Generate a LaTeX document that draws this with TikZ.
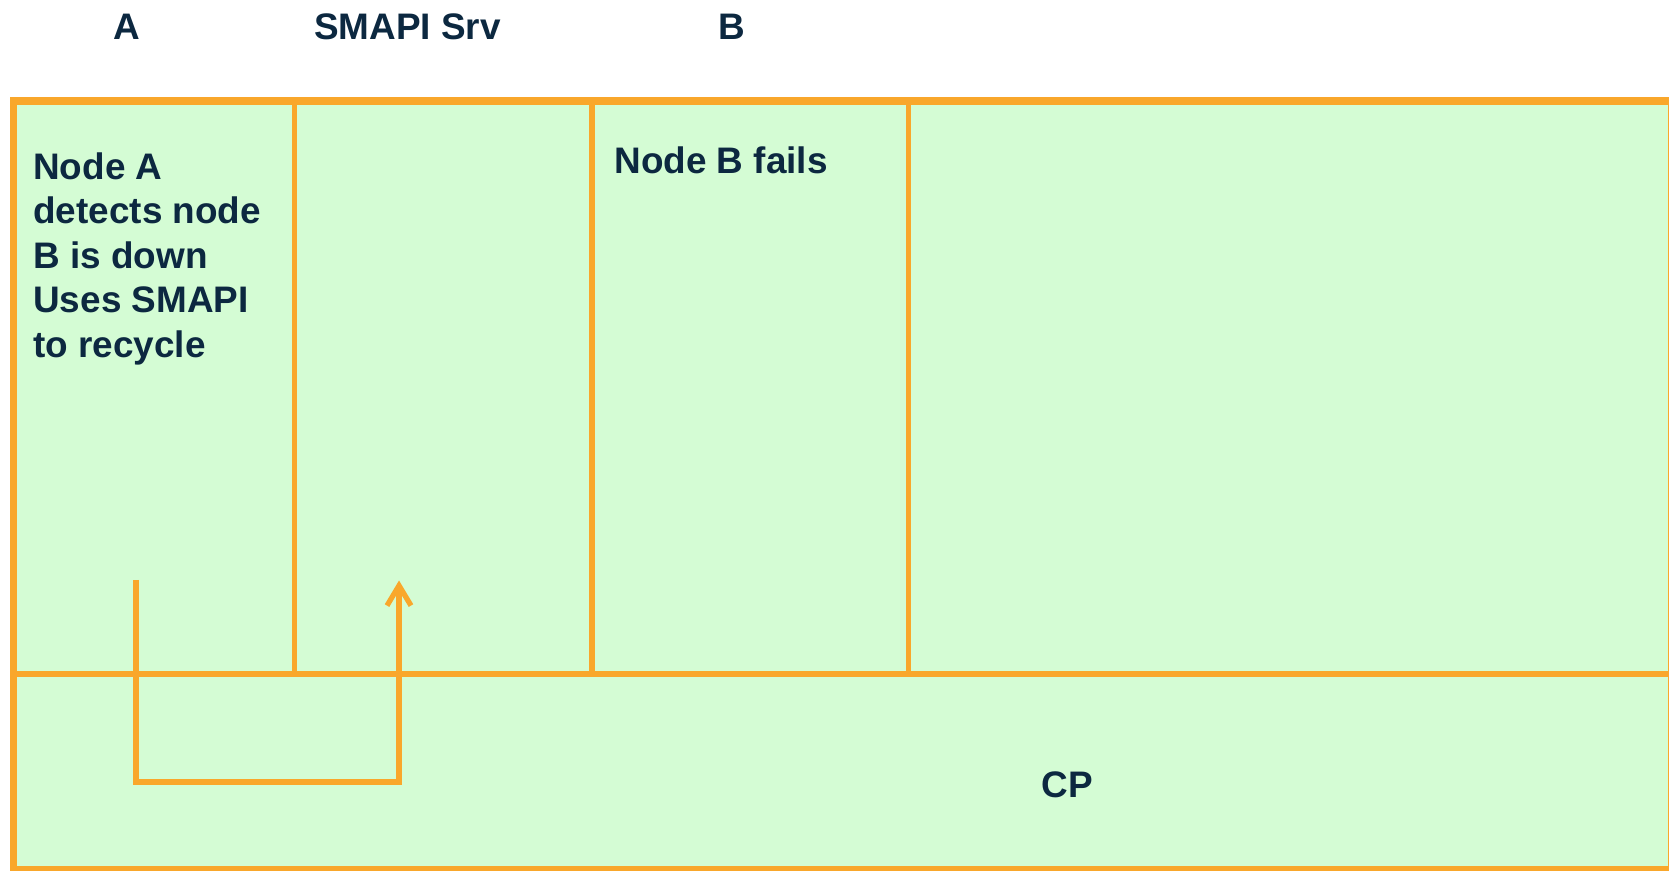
\documentclass[tikz,border=0pt]{standalone}
\usepackage{fontspec}
\setmainfont{Liberation Sans}
\usetikzlibrary{arrows.meta,calc}
\definecolor{cellfill}{RGB}{212,252,212}
\definecolor{edgeorange}{RGB}{249,167,43}
\definecolor{ink}{RGB}{12,40,64}
\tikzset{
    frame/.style = {
    	draw=edgeorange,
    	line width=0.15cm,
    	fill=cellfill
    },
    divider/.style = {
    	draw=edgeorange,
    	line width=0.115cm
    },
    title/.style = {
    	text=ink,
    	inner sep=0pt,
    	font=\bfseries\fontsize{21}{25.4}\selectfont
    },
    note/.style = {
    	title,
    	align=left
    },
    recycle/.style = {
    	draw=edgeorange,
    	line width=0.105cm,
    	-{Straight Barb[length=0.4cm,width=0.48cm,line width=0.105cm]}
    }
}

\begin{document}
\begin{tikzpicture}

	\useasboundingbox (0,0) rectangle (33.38,17.42);

	% Coordenadas importantes
	\coordinate (TL) at (0.27,15.4);
	\coordinate (BR) at (33.43,0.02);
	\coordinate (ML) at (0.27,3.94);
	\coordinate (MR) at (33.43,3.94);

	\path (TL) + (5.62,0) coordinate (C1);
	\path (TL) + (11.57,0) coordinate (C2);
	\path (TL) + (17.90,0) coordinate (C3);

	% Arrow corners
	\coordinate (R1) at (2.72,5.82);
	\coordinate (R2) at (2.72,1.78);
	\coordinate (R3) at (7.98,1.78);
	\coordinate (R4) at (7.98,5.81);

	% Frame and cells
	\draw[frame] (TL) rectangle (BR);
	\draw[divider] (ML) -- (MR);
	\draw[divider] (C1) -- (C1 |- ML);
	\draw[divider] (C2) -- (C2 |- ML);
	\draw[divider] (C3) -- (C3 |- ML);

	% Column titles
	\node[title, anchor=base] (lA) at (2.53,16.63) {A};
	\node[title, anchor=base] (lS) at (8.15,16.63) {SMAPI Srv};
	\node[title, anchor=base] (lB) at (14.64,16.63) {B};

	% Texts
	\node[note, anchor=north west] (tA) at (0.66,14.38) {Node A\\detects node\\B is down\\Uses SMAPI\\to recycle};
	\node[note, anchor=base west] (tB) at (12.28,13.95) {Node B fails};
	\node[title, anchor=base] (tCP) at (21.35,1.46) {CP};

	% Recycle path
	\draw[recycle] (R1) -- (R2) -- (R3) -- (R4);

\end{tikzpicture}
\end{document}
